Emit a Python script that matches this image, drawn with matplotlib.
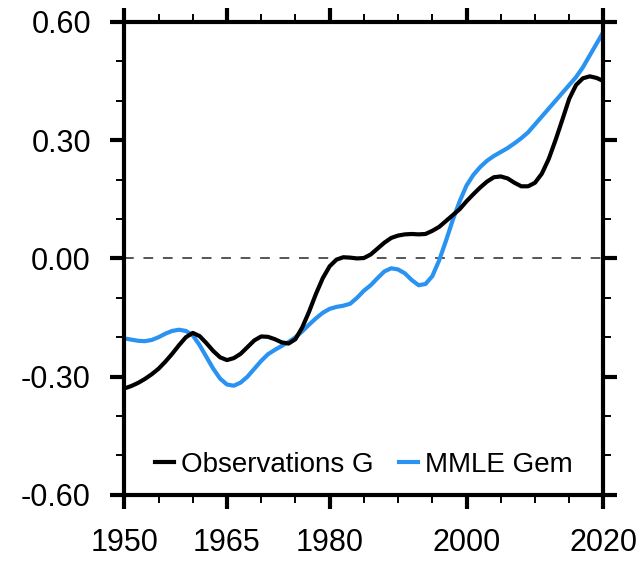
"""Global mean temperature anomaly: observations vs MMLE ensemble mean."""

import numpy as np
import matplotlib.pyplot as plt
from matplotlib.ticker import MultipleLocator, FixedLocator

plt.rcParams["font.family"] = ["Liberation Sans", "DejaVu Sans"]

years = np.arange(1950, 2021)

obs = [
    -0.330, -0.324, -0.316, -0.306, -0.294, -0.280, -0.262, -0.242, -0.220, -0.200,
    -0.189, -0.197, -0.215, -0.235, -0.251, -0.258, -0.253, -0.242, -0.225, -0.208,
    -0.198, -0.199, -0.205, -0.213, -0.216, -0.205, -0.175, -0.135, -0.090, -0.050,
    -0.020, -0.003, 0.003, 0.002, 0.000, 0.001, 0.010, 0.025, 0.040, 0.052,
    0.058, 0.061, 0.062, 0.061, 0.062, 0.070, 0.080, 0.095, 0.110, 0.125,
    0.145, 0.163, 0.180, 0.195, 0.206, 0.208, 0.203, 0.192, 0.183, 0.183,
    0.192, 0.215, 0.252, 0.300, 0.352, 0.405, 0.440, 0.457, 0.462, 0.458,
    0.450,
]

mmle = [
    -0.203, -0.206, -0.209, -0.210, -0.207, -0.200, -0.191, -0.184, -0.181, -0.184,
    -0.195, -0.220, -0.250, -0.280, -0.305, -0.320, -0.323, -0.315, -0.300, -0.280,
    -0.260, -0.243, -0.232, -0.222, -0.212, -0.200, -0.185, -0.168, -0.152, -0.138,
    -0.128, -0.123, -0.120, -0.115, -0.100, -0.082, -0.068, -0.050, -0.033, -0.025,
    -0.028, -0.038, -0.055, -0.068, -0.065, -0.045, -0.005, 0.045, 0.098, 0.145,
    0.185, 0.212, 0.232, 0.248, 0.260, 0.270, 0.280, 0.292, 0.305, 0.320,
    0.340, 0.360, 0.380, 0.400, 0.420, 0.440, 0.460, 0.485, 0.515, 0.545,
    0.575,
]

xticks = [1950, 1965, 1980, 2000, 2020]
yticks = [-0.6, -0.3, 0.0, 0.3, 0.6]

fig = plt.figure(figsize=(6.44, 5.63), dpi=100)
ax = fig.add_axes([0.193, 0.121, 0.744, 0.840])

ax.axhline(0, color="#555555", lw=1.4, ls=(0, (5, 5)), zorder=1)
ax.plot(years, obs, color="black", lw=3.0, label="Observations G", zorder=3)
ax.plot(years, mmle, color="#2A93F2", lw=3.0, label="MMLE Gem", zorder=2)

ax.set_xlim(1950, 2020)
ax.set_ylim(-0.6, 0.6)
ax.xaxis.set_major_locator(FixedLocator(xticks))
ax.xaxis.set_minor_locator(MultipleLocator(5))
ax.yaxis.set_major_locator(FixedLocator(yticks))
ax.yaxis.set_minor_locator(MultipleLocator(0.1))
ax.set_yticklabels([f"{v:.2f}" for v in yticks])

for s in ax.spines.values():
    s.set_linewidth(3.0)
ax.tick_params(which="both", direction="out", top=True, right=True,
               labelsize=22)
ax.tick_params(which="major", length=10, width=3.0, pad=14)
ax.tick_params(which="minor", length=6, width=1.4)

leg = ax.legend(loc="lower center", ncol=2, frameon=False, fontsize=20,
                handlelength=0.7, handletextpad=0.25, columnspacing=0.9,
                borderaxespad=0.2)

fig.savefig("out.png", dpi=100)
